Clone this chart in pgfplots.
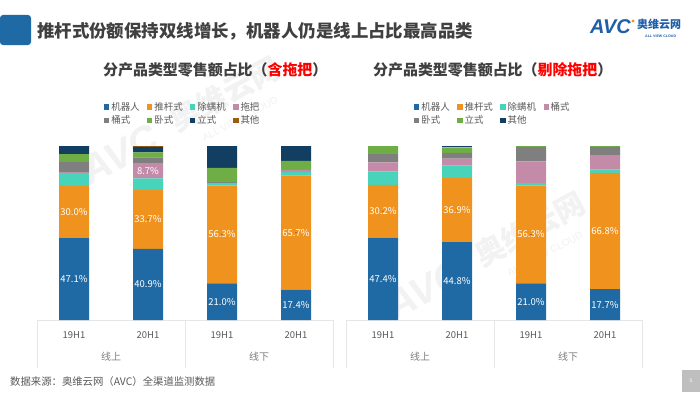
\documentclass[border=0pt]{standalone}
\usepackage{pgfplots}
\pgfplotsset{compat=1.18}
\usepackage{pgfplotstable}
\usepackage{fontspec}
\setmainfont{Noto Sans CJK SC}
\newfontfamily\latinfont{Liberation Sans}
\definecolor{cRobot}{HTML}{1F6AA5}
\definecolor{cPush}{HTML}{F0931E}
\definecolor{cMite}{HTML}{48D4BB}
\definecolor{cMop}{HTML}{C48BA8}
\definecolor{cBucket}{HTML}{7F7F7F}
\definecolor{cHoriz}{HTML}{6FAE45}
\definecolor{cVert}{HTML}{123E61}
\definecolor{cOther}{HTML}{9C5B0F}
\definecolor{txt}{HTML}{404040}
\definecolor{lgtxt}{HTML}{595959}
\definecolor{boxline}{HTML}{E6E6E6}
\definecolor{logoblue}{HTML}{1F5FA8}
\definecolor{wm}{HTML}{F2F2F2}

\pgfplotstableread{
x robot push mite mop bucket horiz vert other
0 47.1 30.0 7.5 0.4 5.7 4.7 4.5 0.1
1 40.9 33.7 6.8 8.7 3.4 2.9 3.1 0.5
2 21.0 56.3 1.5 0.0 0.4 8.3 12.5 0.0
3 17.4 65.7 1.9 1.3 0.0 5.2 8.5 0.0
}\leftdata

\pgfplotstableread{
x robot push mite bucket horiz vert other
0 47.4 30.2 7.8 5.2 4.8 4.6 0.0
1 44.8 36.9 7.0 4.0 3.4 3.1 0.8
2 21.0 56.3 1.3 12.5 8.4 0.5 0.0
3 17.7 66.8 1.9 8.3 4.8 0.5 0.0
}\rightdata

\pgfplotsset{
  geom/.style={
    scale only axis, width=296bp, height=174bp,
    xmin=-0.5, xmax=3.5, ymin=0, ymax=100,
    enlargelimits=false, clip=false,
  },
  barax/.style={
    geom,
    ybar stacked, bar width=30bp,
    axis line style={draw=none},
    major tick length=0pt,
    ytick=\empty,
    xtick={0,1,2,3},
    xticklabels={19H1,20H1,19H1,20H1},
    xticklabel style={anchor=center, yshift=-15bp, font=\fontsize{9.5}{11}\selectfont, text=lgtxt},
    legend columns=4,
    legend cell align=left,
    legend image code/.code={\fill[##1] (0bp,-2.6bp) rectangle (5.2bp,2.6bp);},
    legend style={draw=none, fill=none, anchor=north west,
      font=\fontsize{9.5}{11}\selectfont, text=lgtxt,
      inner sep=0pt, row sep=0bp,
      /tikz/every even column/.append style={column sep=5.5bp}},
    every axis plot/.append style={draw=none},
  },
  labax/.style={
    geom, hide axis,
  },
  labplot/.style={
    only marks, mark=*, mark size=0.1pt, mark options={draw=none, fill=none},
    nodes near coords, point meta=explicit symbolic,
    every node near coord/.append style={anchor=center, text=white, font=\fontsize{9.5}{11}\selectfont},
  },
}

\begin{document}
\begin{tikzpicture}[x=1bp,y=1bp]
\useasboundingbox[fill=white] (0,0) rectangle (700,394);

% watermarks
\node[rotate=28, text=wm, font=\latinfont\bfseries\itshape\fontsize{40}{40}\selectfont] at (120,240) {AVC};
\node[rotate=28, text=wm, font=\bfseries\fontsize{30}{30}\selectfont] at (225,300) {奥维云网};
\node[rotate=28, text=wm, font=\latinfont\fontsize{10}{10}\selectfont] at (240,275) {ALL VIEW CLOUD};
\node[rotate=28, text=wm, font=\latinfont\bfseries\itshape\fontsize{40}{40}\selectfont] at (425,105) {AVC};
\node[rotate=28, text=wm, font=\bfseries\fontsize{30}{30}\selectfont] at (530,165) {奥维云网};
\node[rotate=28, text=wm, font=\latinfont\fontsize{10}{10}\selectfont] at (545,140) {ALL VIEW CLOUD};

% header
\fill[cRobot, rounded corners=3] (0,349) rectangle (31,379);
\node[anchor=west, text=txt, font=\bfseries\fontsize{17.5}{19}\selectfont, inner sep=0pt] at (37,363) {推杆式份额保持双线增长，机器人仍是线上占比最高品类};
\node[anchor=west, text=logoblue, font=\latinfont\bfseries\itshape\fontsize{20}{20}\selectfont, inner sep=0pt] at (590,367) {AVC};
\fill[cPush] (633,373) circle (1.6);
\node[anchor=west, text=logoblue, font=\bfseries\fontsize{11}{12}\selectfont, inner sep=0pt] at (637,370) {奥维云网};
\node[anchor=west, text=logoblue, font=\latinfont\bfseries\fontsize{3.6}{4}\selectfont, inner sep=0pt] at (645,357.5) {ALL VIEW CLOUD};

% subtitles
\node[anchor=west, text=txt, font=\bfseries\fontsize{15}{17}\selectfont, inner sep=0pt] at (103,324) {分产品类型零售额占比（\textcolor{red}{含拖把}）};
\node[anchor=west, text=txt, font=\bfseries\fontsize{15}{17}\selectfont, inner sep=0pt] at (373,324) {分产品类型零售额占比（\textcolor{red}{剔除拖把}）};

% category tables
\draw[boxline, line width=0.8] (37,26) -- (37,74) -- (333,74) -- (333,26);
\draw[boxline, line width=0.8] (185,26) -- (185,74);
\draw[boxline, line width=0.8] (346,26) -- (346,74) -- (642,74) -- (642,26);
\draw[boxline, line width=0.8] (494,26) -- (494,74);
\node[text=cBucket, font=\fontsize{10}{11}\selectfont] at (111,37) {线上};
\node[text=cBucket, font=\fontsize{10}{11}\selectfont] at (259,37) {线下};
\node[text=cBucket, font=\fontsize{10}{11}\selectfont] at (420,37) {线上};
\node[text=cBucket, font=\fontsize{10}{11}\selectfont] at (568,37) {线下};

% left chart
\begin{axis}[barax, at={(37bp,74bp)}, anchor=south west,
  legend style={at={(0.226,1.264)}}]
\addplot[fill=cRobot] table[x=x,y=robot]{\leftdata};
\addlegendentry{机器人}
\addplot[fill=cPush] table[x=x,y=push]{\leftdata};
\addlegendentry{推杆式}
\addplot[fill=cMite] table[x=x,y=mite]{\leftdata};
\addlegendentry{除螨机}
\addplot[fill=cMop] table[x=x,y=mop]{\leftdata};
\addlegendentry{拖把}
\addplot[fill=cBucket] table[x=x,y=bucket]{\leftdata};
\addlegendentry{桶式}
\addplot[fill=cHoriz] table[x=x,y=horiz]{\leftdata};
\addlegendentry{卧式}
\addplot[fill=cVert] table[x=x,y=vert]{\leftdata};
\addlegendentry{立式}
\addplot[fill=cOther] table[x=x,y=other]{\leftdata};
\addlegendentry{其他}
\end{axis}
\begin{axis}[labax, at={(37bp,74bp)}, anchor=south west]
\addplot[labplot] coordinates {
  (0,23.55) [47.1\%] (0,62.1) [30.0\%]
  (1,20.45) [40.9\%] (1,57.75) [33.7\%] (1,85.75) [8.7\%]
  (2,10.5) [21.0\%] (2,49.15) [56.3\%]
  (3,8.7) [17.4\%] (3,50.25) [65.7\%]
};
\end{axis}

% right chart
\begin{axis}[barax, at={(346bp,74bp)}, anchor=south west,
  legend style={at={(0.23,1.264)}}]
\addplot[fill=cRobot] table[x=x,y=robot]{\rightdata};
\addlegendentry{机器人}
\addplot[fill=cPush] table[x=x,y=push]{\rightdata};
\addlegendentry{推杆式}
\addplot[fill=cMite] table[x=x,y=mite]{\rightdata};
\addlegendentry{除螨机}
\addplot[fill=cMop] table[x=x,y=bucket]{\rightdata};
\addlegendentry{桶式}
\addplot[fill=cBucket] table[x=x,y=horiz]{\rightdata};
\addlegendentry{卧式}
\addplot[fill=cHoriz] table[x=x,y=vert]{\rightdata};
\addlegendentry{立式}
\addplot[fill=cVert] table[x=x,y=other]{\rightdata};
\addlegendentry{其他}
\end{axis}
\begin{axis}[labax, at={(346bp,74bp)}, anchor=south west]
\addplot[labplot] coordinates {
  (0,23.7) [47.4\%] (0,62.5) [30.2\%]
  (1,22.4) [44.8\%] (1,63.25) [36.9\%]
  (2,10.5) [21.0\%] (2,49.15) [56.3\%]
  (3,8.85) [17.7\%] (3,51.1) [66.8\%]
};
\end{axis}

% footer
\node[anchor=west, text=lgtxt, font=\fontsize{10.4}{12}\selectfont, inner sep=0pt] at (10,12) {数据来源：奥维云网（AVC）全渠道监测数据};
\fill[black!25] (682,2) rectangle (700,24);
\node[text=white, font=\latinfont\fontsize{5}{6}\selectfont] at (691,13) {5};
\end{tikzpicture}
\end{document}
